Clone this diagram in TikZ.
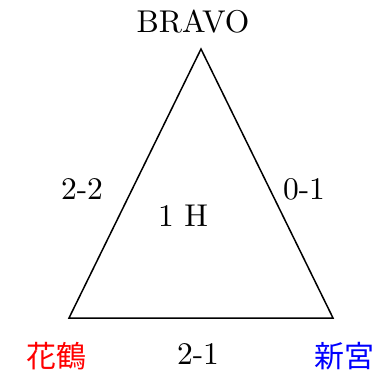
\documentclass[tikz,border=0pt]{standalone}
\usepackage{fontspec}
\setmainfont{lmroman10-regular.otf}
\newfontfamily\cjk{Noto Sans CJK JP}
\begin{document}
\begin{tikzpicture}[x=1pt,y=-1pt,
  lbl/.style={font=\fontsize{31.5}{36}\selectfont, inner sep=0pt, anchor=center},
  cjklbl/.style={font=\cjk\fontsize{30}{34}\selectfont, inner sep=0pt, anchor=center},
  edge/.style={line width=1.5pt, line join=miter}]
\useasboundingbox (0,0) rectangle (388,375);
\coordinate (T) at (201,49);
\coordinate (L) at (69,318);
\coordinate (R) at (333,318);
\draw[edge] (T) -- (L) -- (R) -- cycle;
\node[lbl] (bravo) at (193,22) {BRAVO};
\node[cjklbl, text=red] (kaku) at (56,356) {花鶴};
\node[cjklbl, text=blue] (shingu) at (344,356) {新宮};
\node[lbl] (s21) at (198,354) {2-1};
\node[lbl] (s22) at (82,189) {2-2};
\node[lbl] (s01) at (304,189) {0-1};
\node[lbl] (h1) at (183,216) {1 H};
\end{tikzpicture}
\end{document}
